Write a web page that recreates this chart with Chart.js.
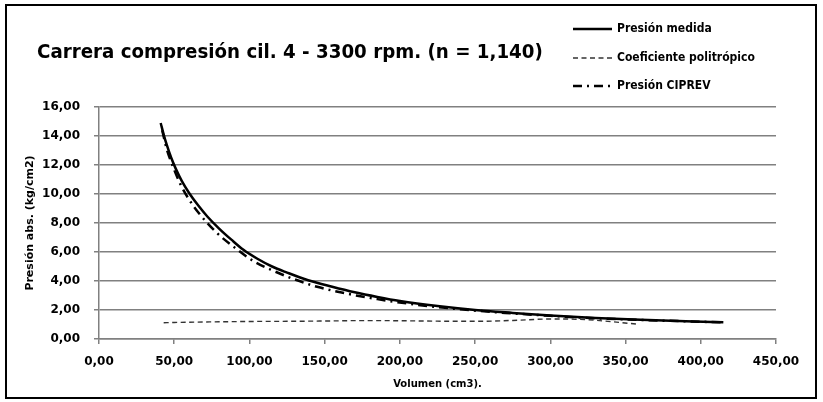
<!DOCTYPE html>
<html>
<head>
<meta charset="utf-8">
<script src="https://cdn.jsdelivr.net/npm/chart.js@4/dist/chart.umd.min.js"></script>
<style>
  html, body { margin: 0; padding: 0; background: #fff; }
  #wrap { width: 823px; height: 402px; position: relative; }
</style>
</head>
<body>
<div id="wrap"><canvas id="grafico" width="823" height="402"></canvas></div>
<script>
// datos
const titulo = 'Carrera compresión cil. 4 - 3300 rpm. (n = 1,140)';
const nombresSeries = ['Presión medida', 'Coeficiente politrópico', 'Presión CIPREV'];

const volMedida = [41, 43, 45, 48, 51, 55, 60, 66, 72, 80, 88, 96, 105, 115, 125, 139, 155, 170, 185, 200, 225, 250, 275, 300, 330, 360, 390, 415];
const presMedida = [14.9, 14.1, 13.4, 12.5, 11.75, 10.9, 10.05, 9.2, 8.45, 7.6, 6.85, 6.15, 5.55, 5.0, 4.58, 4.05, 3.6, 3.22, 2.9, 2.62, 2.27, 2.0, 1.8, 1.62, 1.45, 1.32, 1.22, 1.15];

const volPoli = [43, 50, 75, 100, 125, 150, 175, 200, 225, 250, 275, 300, 320, 340, 357];
const coefPoli = [1.12, 1.14, 1.18, 1.21, 1.22, 1.24, 1.27, 1.26, 1.23, 1.22, 1.28, 1.38, 1.36, 1.2, 1.03];

const volCiprev = [42, 45, 48, 54, 60, 67, 78, 89, 103, 116, 129, 145, 167, 185, 210, 240, 270, 300, 330, 360, 390, 415];
const presCiprev = [14.4, 13.1, 12.2, 10.7, 9.6, 8.6, 7.35, 6.4, 5.35, 4.7, 4.15, 3.6, 3.08, 2.75, 2.38, 2.05, 1.8, 1.6, 1.43, 1.31, 1.22, 1.15];

const ticksY = [0, 2, 4, 6, 8, 10, 12, 14, 16];
const ticksX = [0, 50, 100, 150, 200, 250, 300, 350, 400, 450];

function puntos(xs, ys) {
  const out = [];
  for (let i = 0; i < xs.length; i++) {
    out.push({ x: xs[i], y: ys[i] });
  }
  return out;
}

function coma(v) {
  return v.toFixed(2).replace('.', ',');
}

// marco, titulo y leyenda a la derecha
const decorado = {
  id: 'decorado',
  beforeDraw(chart) {
    const ctx = chart.ctx;
    ctx.save();
    ctx.fillStyle = '#fff';
    ctx.fillRect(0, 0, chart.width, chart.height);
    ctx.restore();
  },
  afterDraw(chart) {
    const ctx = chart.ctx;
    ctx.save();
    ctx.strokeStyle = '#000';
    ctx.lineWidth = 2;
    ctx.strokeRect(6, 5, 810, 393);

    // titulo
    ctx.fillStyle = '#000';
    ctx.textBaseline = 'middle';
    ctx.font = 'bold 19px "DejaVu Sans"';
    ctx.save();
    ctx.translate(37, 53);
    ctx.scale(0.96, 1);
    ctx.fillText(titulo, 0, 0);
    ctx.restore();

    // leyenda
    const filas = [29, 58, 86];
    chart.data.datasets.forEach(function (ds, i) {
      const y = filas[i];
      ctx.save();
      ctx.strokeStyle = ds.borderColor;
      ctx.lineWidth = ds.borderWidth;
      ctx.setLineDash(ds.borderDash || []);
      ctx.beginPath();
      ctx.moveTo(573, y);
      ctx.lineTo(612, y);
      ctx.stroke();
      ctx.restore();

      ctx.save();
      ctx.font = 'bold 11.5px "DejaVu Sans"';
      ctx.textBaseline = 'middle';
      ctx.translate(617, y);
      ctx.scale(0.94, 1);
      ctx.fillText(ds.label, 0, 0);
      ctx.restore();
    });
    ctx.restore();
  }
};

const ctxGraf = document.getElementById('grafico');

new Chart(ctxGraf, {
  type: 'line',
  data: {
    datasets: [{
      label: nombresSeries[0],
      data: puntos(volMedida, presMedida),
      borderColor: '#000',
      borderWidth: 2.5,
      cubicInterpolationMode: 'monotone',
      pointRadius: 0
    }, {
      label: nombresSeries[1],
      data: puntos(volPoli, coefPoli),
      borderColor: '#333',
      borderWidth: 1.4,
      borderDash: [5, 3.5],
      cubicInterpolationMode: 'monotone',
      pointRadius: 0
    }, {
      label: nombresSeries[2],
      data: puntos(volCiprev, presCiprev),
      borderColor: '#000',
      borderWidth: 2.5,
      borderDash: [9, 5, 2, 5],
      cubicInterpolationMode: 'monotone',
      pointRadius: 0
    }]
  },
  options: {
    responsive: false,
    animation: false,
    devicePixelRatio: 1,
    layout: {
      padding: { left: 8, top: 107, right: 47, bottom: 0 }
    },
    plugins: {
      legend: { display: false },
      tooltip: { enabled: false }
    },
    scales: {
      x: {
        type: 'linear',
        min: 0,
        max: 450,
        afterFit: function (scale) { scale.height = 63; },
        afterBuildTicks: function (scale) {
          scale.ticks = ticksX.map(function (v) { return { value: v }; });
        },
        grid: {
          drawOnChartArea: false,
          drawTicks: true,
          tickLength: 5,
          color: '#808080',
          lineWidth: 1.5
        },
        border: { display: true, color: '#808080', width: 1.5 },
        ticks: {
          color: '#000',
          padding: 11,
          maxRotation: 0,
          font: { family: 'DejaVu Sans', weight: 'bold', size: 12 },
          callback: function (v) { return coma(v); }
        },
        title: {
          display: true,
          text: 'Volumen (cm3).',
          color: '#000',
          padding: { top: 0, bottom: 12 },
          font: { family: 'DejaVu Sans', weight: 'bold', size: 10 }
        }
      },
      y: {
        min: 0,
        max: 16,
        afterFit: function (scale) { scale.width = 91; },
        afterBuildTicks: function (scale) {
          scale.ticks = ticksY.map(function (v) { return { value: v }; });
        },
        grid: {
          drawTicks: true,
          tickLength: 5,
          color: '#808080',
          lineWidth: 1.5
        },
        border: { display: true, color: '#808080', width: 1.5 },
        ticks: {
          color: '#000',
          padding: 14,
          font: { family: 'DejaVu Sans', weight: 'bold', size: 12 },
          callback: function (v) { return coma(v); }
        },
        title: {
          display: true,
          text: 'Presión abs. (kg/cm2)',
          color: '#000',
          padding: { top: 16, bottom: 0 },
          font: { family: 'DejaVu Sans', weight: 'bold', size: 11 }
        }
      }
    }
  },
  plugins: [decorado]
});
</script>
</body>
</html>
